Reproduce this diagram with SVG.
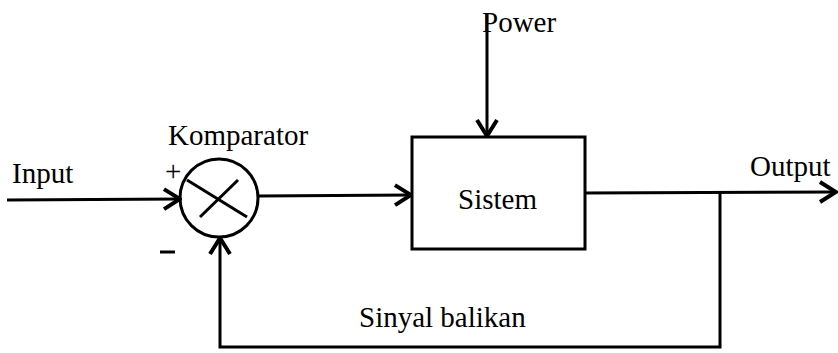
<svg xmlns="http://www.w3.org/2000/svg" width="838" height="353" viewBox="0 0 838 353">
<style>
.t{font-family:"Liberation Serif","Times New Roman",serif;font-size:29px;fill:#000}
.ln{stroke:#000;stroke-width:3;fill:none}
</style>
<defs>
<marker id="ah" viewBox="0 0 20 24" markerWidth="20" markerHeight="24" refX="18" refY="12" orient="auto" markerUnits="userSpaceOnUse">
<path d="M2,2 L18,12 L2,22" fill="none" stroke="#000" stroke-width="4"/>
</marker>
</defs>
<rect width="838" height="353" fill="#fff"/>
<g id="connectors">
<line class="ln" x1="7" y1="200" x2="180" y2="199" marker-end="url(#ah)"/>
<line class="ln" x1="258" y1="196" x2="411" y2="195" marker-end="url(#ah)"/>
<line class="ln" x1="487" y1="14" x2="487" y2="136" marker-end="url(#ah)"/>
<line class="ln" x1="585" y1="193" x2="836" y2="192" marker-end="url(#ah)"/>
<polyline class="ln" points="720,192 720,347 220,347 220,238" marker-end="url(#ah)"/>
</g>
<g id="input-label"><text class="t" x="12" y="183" font-size="30">Input</text></g>
<g id="power-label"><text class="t" x="482" y="32">Power</text></g>
<g id="output-label"><text class="t" x="750" y="176">Output</text></g>
<g id="feedback-label"><text class="t" x="359" y="327">Sinyal balikan</text></g>
<g id="komparator">
<text class="t" x="168" y="145">Komparator</text>
<circle cx="219" cy="198" r="39" class="ln"/>
<line class="ln" x1="187" y1="180" x2="247" y2="217" stroke-width="2"/>
<line class="ln" x1="200" y1="217" x2="238" y2="180" stroke-width="2"/>
<text class="t" x="165" y="181" font-size="22">+</text>
<line class="ln" x1="160" y1="252" x2="175" y2="252" stroke-width="1.5"/>
</g>
<g id="sistem">
<rect x="412" y="137" width="173" height="112" class="ln"/>
<text class="t" x="458" y="209" font-size="30">Sistem</text>
</g>
</svg>
